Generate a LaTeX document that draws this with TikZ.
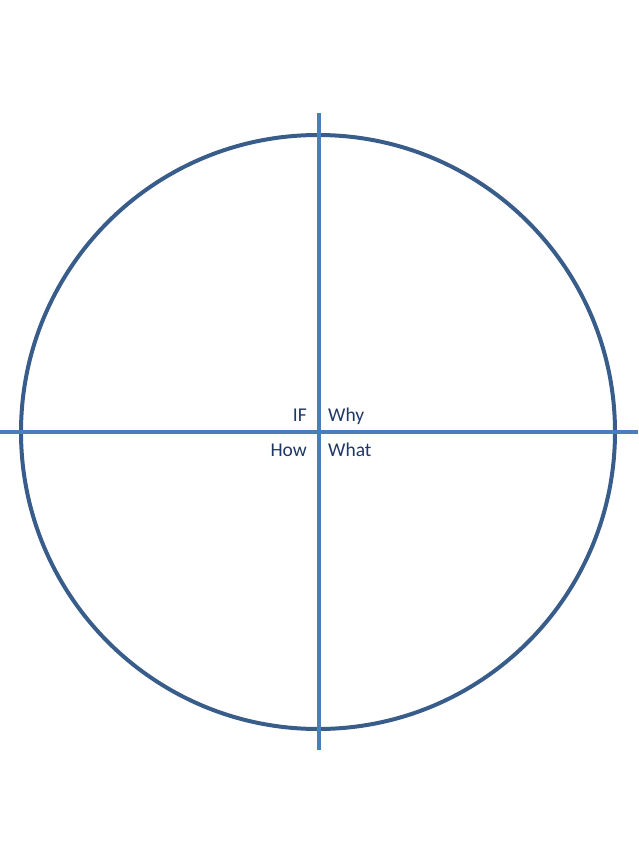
\documentclass[tikz,border=0pt]{standalone}
\usepackage{fontspec}
\setmainfont{Carlito}
\definecolor{circ}{HTML}{385D8A}
\definecolor{axis}{HTML}{4A7EBB}
\definecolor{txt}{HTML}{1F3864}
\begin{document}
\begin{tikzpicture}[x=1pt,y=-1pt,
  circ/.style={draw=circ,line width=4pt},
  axisline/.style={draw=axis,line width=3.2pt},
  lbl/.style={text=txt,inner sep=0pt,font=\fontsize{19.5}{22}\selectfont}]
\useasboundingbox (0,0) rectangle (638,851);
\coordinate (c) at (318,432);
\coordinate (top) at (319,113);
\coordinate (bot) at (319,750);
\coordinate (left) at (0,432);
\coordinate (right) at (638,432);
\draw[circ] (c) circle[radius=297];
\draw[axisline] (top) -- (bot);
\draw[axisline] (left) -- (right);
\node[lbl,anchor=base east] (if) at (307,421) {IF};
\node[lbl,anchor=base west] (why) at (328,421) {Why};
\node[lbl,anchor=base east] (how) at (307,456) {How};
\node[lbl,anchor=base west] (what) at (328,456) {What};
\end{tikzpicture}
\end{document}
